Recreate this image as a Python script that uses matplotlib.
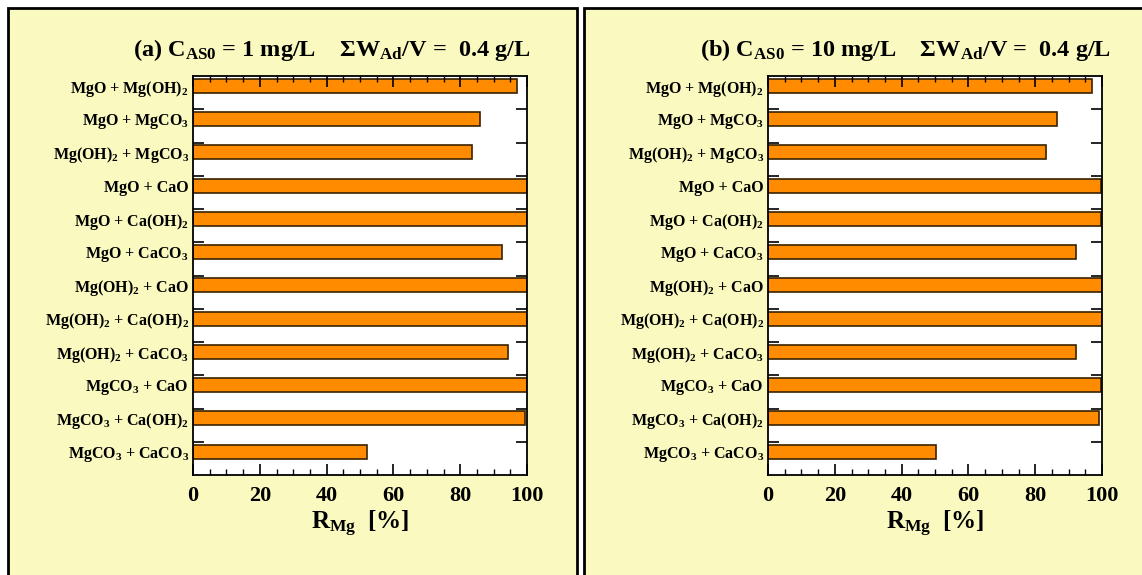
import numpy as np
import matplotlib
matplotlib.use('Agg')
import matplotlib.pyplot as plt
from matplotlib.patches import Rectangle
from matplotlib.ticker import MultipleLocator

plt.rcParams['font.family'] = ['Liberation Serif', 'DejaVu Serif']
plt.rcParams['font.weight'] = 'bold'
plt.rcParams['mathtext.fontset'] = 'custom'
plt.rcParams['mathtext.rm'] = 'Liberation Serif:bold'
plt.rcParams['mathtext.it'] = 'Liberation Serif:bold'
plt.rcParams['mathtext.bf'] = 'Liberation Serif:bold'

# Data
labels = ['MgO + Mg(OH)$_2$', 'MgO + MgCO$_3$', 'Mg(OH)$_2$ + MgCO$_3$',
          'MgO + CaO', 'MgO + Ca(OH)$_2$', 'MgO + CaCO$_3$',
          'Mg(OH)$_2$ + CaO', 'Mg(OH)$_2$ + Ca(OH)$_2$', 'Mg(OH)$_2$ + CaCO$_3$',
          'MgCO$_3$ + CaO', 'MgCO$_3$ + Ca(OH)$_2$', 'MgCO$_3$ + CaCO$_3$']
r_mg_1 = [97.1, 85.9, 83.4, 100, 100, 92.6, 100, 100, 94.3, 100, 99.5, 52.0]
r_mg_10 = [97.0, 86.6, 83.1, 99.6, 99.6, 92.3, 100, 100, 92.3, 99.6, 99.1, 50.4]
titles = ['(a) C$_{\\mathrm{AS0}}$ = 1 mg/L    \u03a3W$_{\\mathrm{Ad}}$/V =  0.4 g/L',
          '(b) C$_{\\mathrm{AS0}}$ = 10 mg/L    \u03a3W$_{\\mathrm{Ad}}$/V =  0.4 g/L']
xticks = [0, 20, 40, 60, 80, 100]

W, H = 1142, 575
fig = plt.figure(figsize=(W / 100, H / 100), dpi=100)
fig.patch.set_facecolor('white')

panel_bg = '#FAFAC0'
# panel frames (figure pixels -> fraction)
for x0, x1 in [(8, 577), (584, 1160)]:
    fig.patches.append(Rectangle((x0 / W, -0.05), (x1 - x0) / W, 1 - 8 / H + 0.05,
                                 transform=fig.transFigure, facecolor=panel_bg,
                                 edgecolor='black', linewidth=2, zorder=-1))

n = len(labels)
slot_pos = np.arange(n)
bar_h = 0.42
bar_c = 0.30  # bar centre measured from top of slot

for i, (vals, title) in enumerate(zip([r_mg_1, r_mg_10], titles)):
    left = [193, 768][i]
    ax = fig.add_axes([left / W, 1 - 475 / H, 334 / W, 399 / H])
    ax.set_facecolor('white')
    ax.barh(slot_pos + bar_c, vals, height=bar_h, color='#FF8C00',
            edgecolor='#3A2200', linewidth=1.2)
    ax.set_xlim(0, 100)
    ax.set_ylim(n, 0)
    ax.set_xticks(xticks)
    ax.set_xticklabels([str(t) for t in xticks], fontsize=16, fontweight='bold')
    ax.xaxis.set_minor_locator(MultipleLocator(5))
    ax.tick_params(axis='x', which='major', direction='in', length=8, width=1.2,
                   top=True, pad=8)
    ax.tick_params(axis='x', which='minor', direction='in', length=4, width=1,
                   top=True)
    ax.set_yticks(np.arange(1, n))
    ax.set_yticklabels([])
    ax.tick_params(axis='y', which='major', direction='in', length=8, width=1.2,
                   right=True)
    for s in ax.spines.values():
        s.set_linewidth(1.3)
    for k, lab in enumerate(labels):
        ax.text(-0.012, k + 0.38, lab, transform=ax.get_yaxis_transform(),
                ha='right', va='center', fontsize=11.5, fontweight='bold')
    ax.set_xlabel('R$_{\\mathrm{Mg}}$  [%]', fontsize=18, fontweight='bold',
                  labelpad=2)
    fig.text([133, 700][i] / W, 1 - 56 / H, title, ha='left', va='baseline',
             fontsize=17.5, fontweight='bold')

fig.savefig('out.png', dpi=100, facecolor=fig.get_facecolor())
